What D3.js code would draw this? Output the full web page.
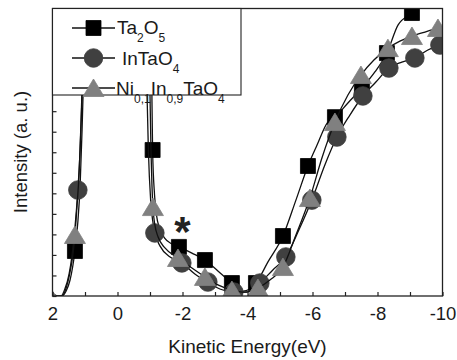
<!DOCTYPE html>
<html><head><meta charset="utf-8">
<script src="https://cdn.jsdelivr.net/npm/d3@7"></script>
<style>body{margin:0;background:#fff}svg{display:block}</style>
</head><body>
<svg id="c" width="457" height="360"></svg>
<script>
// ---------- data ----------
const xTickValues = [2,1,0,-1,-2,-3,-4,-5,-6,-7,-8,-9,-10];
const xTickLabels = [2,0,-2,-4,-6,-8,-10];
const yTickValues = [0,1,2,3,4,5,6,7,8,9,10,11,12,13,14];
const xTitle = "Kinetic Energy(eV)";
const yTitle = "Intensity (a. u.)";
const annotation = "*";
const annotationPos = [-2.0, 3.6];
// legend labels: [text, isSubscript]
const legendLabels = [
  [["Ta",0],["2",1],["O",0],["5",1]],
  [["InTaO",0],["4",1]],
  [["Ni",0],["0,1",1],["In",0],["0,9",1],["TaO",0],["4",1]]
];

// Ta2O5 curve [energy eV, intensity a.u.]
const ta2o5Line = [
  [2.11,0.19],[2.02,0.15],[1.86,0.00],[1.71,0.00],[1.58,0.24],[1.46,0.78],[1.31,2.19],
  [1.22,3.60],[1.15,5.40],[1.09,8.08],[1.03,11.49],[0.97,14.41],[0.54,25],[-0.38,25],
  [-0.98,14.41],[-1.05,11.49],[-1.06,9.54],[-1.08,7.11],[-1.14,4.92],[-1.20,3.94],
  [-1.29,3.31],[-1.45,2.82],[-1.68,2.53],[-1.89,2.39],[-2.29,2.09],[-2.69,1.75],
  [-3.09,1.22],[-3.52,0.63],[-3.86,0.24],[-4.26,0.63],[-4.63,1.66],[-5.09,2.92],
  [-5.49,4.67],[-5.86,6.33],[-6.14,7.35],[-6.45,8.42],[-6.69,8.71],[-7.09,9.40],
  [-7.52,10.13],[-7.92,10.91],[-8.29,11.83],[-8.63,13.19],[-9.06,13.78],[-9.46,14.41],
  [-9.89,15.14]
];
const ta2o5Markers = [
  [1.31,2.19],[-1.08,7.11],[-1.89,2.39],[-2.69,1.75],[-3.52,0.63],[-4.26,0.63],
  [-5.09,2.92],[-5.86,6.33],[-6.69,8.71],[-7.52,10.13],[-8.29,11.83],[-9.06,13.78]
];

// InTaO4 curve
const intao4Line = [
  [2.11,0.19],[1.92,0.00],[1.74,0.00],[1.62,0.34],[1.49,1.07],[1.40,1.95],[1.31,3.31],
  [1.22,5.16],[1.15,7.11],[1.09,9.79],[1.03,12.95],[1.00,14.41],[0.54,25],[-0.38,25],
  [-0.85,14.41],[-0.91,9.79],[-0.95,7.11],[-1.02,4.67],[-1.08,3.70],[-1.15,3.07],
  [-1.31,2.43],[-1.62,1.90],[-1.98,1.61],[-2.38,1.07],[-2.78,0.68],[-3.15,0.34],
  [-3.58,0.19],[-3.98,0.19],[-4.38,0.63],[-4.78,1.27],[-5.18,1.90],[-5.58,3.21],
  [-5.98,4.67],[-6.38,6.38],[-6.75,7.74],[-7.15,8.81],[-7.55,9.74],[-7.95,10.42],
  [-8.35,11.10],[-8.75,11.39],[-9.15,11.59],[-9.55,11.98],[-9.92,12.22],[-10.11,12.27]
];
const intao4Markers = [
  [1.22,5.16],[-1.15,3.07],[-1.98,1.61],[-2.78,0.68],[-3.58,0.19],[-4.38,0.63],
  [-5.18,1.90],[-5.98,4.67],[-6.75,7.74],[-7.55,9.74],[-8.35,11.10],[-9.15,11.59],
  [-9.92,12.22]
];

// Ni0.1In0.9TaO4 curve
const niLine = [
  [2.11,0.10],[1.89,-0.05],[1.71,0.00],[1.58,0.39],[1.46,1.17],[1.37,2.04],[1.31,2.97],
  [1.25,4.28],[1.18,6.04],[1.12,8.57],[1.06,11.73],[1.00,14.41],[0.54,25],[-0.38,25],
  [-0.92,14.41],[-1.00,9.79],[-1.03,7.11],[-1.06,5.40],[-1.09,4.33],[-1.15,3.46],
  [-1.25,2.87],[-1.46,2.34],[-1.86,1.85],[-2.29,1.36],[-2.69,0.93],[-3.09,0.54],
  [-3.52,0.29],[-3.92,0.19],[-4.32,0.39],[-4.69,0.78],[-5.09,1.41],[-5.49,2.97],
  [-5.92,4.77],[-6.29,6.72],[-6.69,8.47],[-7.09,9.79],[-7.49,10.76],[-7.89,11.49],
  [-8.32,12.07],[-8.69,12.41],[-9.06,12.66],[-9.46,12.85],[-9.86,13.05],[-10.11,13.15]
];
const niMarkers = [
  [2.11,0.10],[1.31,2.97],[-1.09,4.33],[-1.86,1.85],[-2.69,0.93],[-3.52,0.29],
  [-4.32,0.39],[-5.09,1.41],[-5.92,4.77],[-6.69,8.47],[-7.49,10.76],[-8.32,12.07],
  [-9.06,12.66],[-9.86,13.05]
];

// ---------- drawing ----------
const FONT = "'Liberation Sans', Arial, sans-serif";
const svg = d3.select("#c");
const M = {l:52.5, r:442.5, t:8.5, b:296};
const x = d3.scaleLinear().domain([2,-10]).range([M.l, M.r]);
const y = d3.scaleLinear().domain([0,14]).range([M.b, M.t]);

svg.append("defs").append("clipPath").attr("id","clip")
  .append("rect").attr("x",M.l).attr("y",M.t).attr("width",M.r-M.l).attr("height",M.b-M.t);

const symbolPath = {
  square: "M-7.5,-7.5H7.5V7.5H-7.5Z",
  circle: d3.symbol().type(d3.symbolCircle).size(Math.PI*9.3*9.3)(),
  triangle: "M0,-9L10.5,8.5H-10.5Z"
};
const series = [
  {line: ta2o5Line, markers: ta2o5Markers, sym: "square", fill: "#000000"},
  {line: intao4Line, markers: intao4Markers, sym: "circle", fill: "#404040"},
  {line: niLine, markers: niMarkers, sym: "triangle", fill: "#808080"}
];

const lineGen = d3.line().x(d => x(d[0])).y(d => y(d[1])).curve(d3.curveMonotoneX);
const plot = svg.append("g").attr("clip-path","url(#clip)");
series.forEach(s => {
  plot.append("path").attr("d", lineGen(s.line))
    .attr("fill","none").attr("stroke","#111").attr("stroke-width",1.3);
  plot.selectAll(null).data(s.markers).enter().append("path")
    .attr("d", symbolPath[s.sym])
    .attr("transform", d => `translate(${x(d[0])},${y(d[1])})`)
    .attr("fill", s.fill).attr("stroke", s.fill).attr("stroke-width",0.8);
});

// annotation
svg.append("text").attr("x", x(annotationPos[0])).attr("y", y(annotationPos[1]) + 24)
  .attr("text-anchor","middle").attr("font-family",FONT).attr("font-weight","bold")
  .attr("font-size",42).attr("fill","#222").text(annotation);

// axes
const xAxis = d3.axisBottom(x).tickValues(xTickValues)
  .tickFormat(d => xTickLabels.includes(d) ? String(d) : "")
  .tickSizeInner(-4).tickSizeOuter(0).tickPadding(11);
const gx = svg.append("g").attr("transform",`translate(0,${M.b})`).call(xAxis);
gx.select(".domain").remove();
gx.selectAll("line").attr("stroke","#222").attr("stroke-width",1.2);
gx.selectAll("text").attr("font-family",FONT).attr("font-size",18.5).attr("fill","#1a1a1a");

const yAxis = d3.axisLeft(y).tickValues(yTickValues).tickFormat("")
  .tickSizeInner(-4).tickSizeOuter(0);
const gy = svg.append("g").attr("transform",`translate(${M.l},0)`).call(yAxis);
gy.select(".domain").remove();
gy.selectAll("line").attr("stroke","#222").attr("stroke-width",1.2);

// frame
svg.append("rect").attr("x",M.l).attr("y",M.t).attr("width",M.r-M.l).attr("height",M.b-M.t)
  .attr("fill","none").attr("stroke","#222").attr("stroke-width",1.3);

// titles
svg.append("text").attr("x",(M.l+M.r)/2).attr("y",353).attr("text-anchor","middle")
  .attr("font-family",FONT).attr("font-size",19).attr("fill","#1a1a1a").text(xTitle);
svg.append("text").attr("transform","translate(26.5,152) rotate(-90)").attr("text-anchor","middle")
  .attr("font-family",FONT).attr("font-size",18.5).attr("fill","#1a1a1a").text(yTitle);

// legend
const lg = svg.append("g");
lg.append("rect").attr("x",M.l).attr("y",M.t).attr("width",188.5).attr("height",86.5)
  .attr("fill","#fff").attr("stroke","#222").attr("stroke-width",1.1);
const rowY = [28, 58, 88];
const textX = [117, 122, 116];
const baseDy = [5.5, 6.5, 6.5];
series.forEach((s,i) => {
  lg.append("line").attr("x1",72).attr("x2",115).attr("y1",rowY[i]).attr("y2",rowY[i])
    .attr("stroke","#111").attr("stroke-width",1.3);
  lg.append("path").attr("d",symbolPath[s.sym]).attr("transform",`translate(93.5,${rowY[i]})`)
    .attr("fill",s.fill).attr("stroke",s.fill).attr("stroke-width",0.8);
  const t = lg.append("text").attr("x",textX[i]).attr("y",rowY[i]+baseDy[i])
    .attr("font-family",FONT).attr("fill","#1a1a1a");
  let prevSub = 0;
  legendLabels[i].forEach(([txt, sub]) => {
    const dy = sub === prevSub ? 0 : (sub ? 8 : -8);
    t.append("tspan").attr("dy", dy).attr("font-size", sub ? 12 : 19).text(txt);
    prevSub = sub;
  });
});
</script>
</body></html>
